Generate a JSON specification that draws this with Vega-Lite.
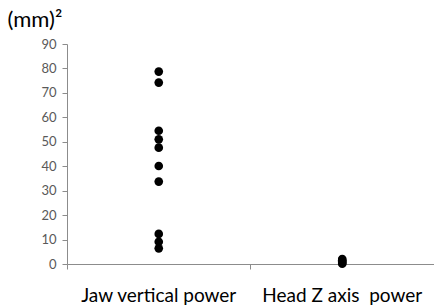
{
  "$schema": "https://vega.github.io/schema/vega-lite/v6.json",
  "autosize": "none",
  "width": 367,
  "height": 220,
  "padding": {"left": 67, "top": 44, "right": 0, "bottom": 44},
  "background": "white",
  "config": {"view": {"stroke": null}, "font": "Lato"},
  "data": {
    "values": [
      {"measure": "Jaw vertical power", "value": 78.7},
      {"measure": "Jaw vertical power", "value": 74.2},
      {"measure": "Jaw vertical power", "value": 54.5},
      {"measure": "Jaw vertical power", "value": 51.0},
      {"measure": "Jaw vertical power", "value": 47.6},
      {"measure": "Jaw vertical power", "value": 40.1},
      {"measure": "Jaw vertical power", "value": 33.7},
      {"measure": "Jaw vertical power", "value": 12.3},
      {"measure": "Jaw vertical power", "value": 9.1},
      {"measure": "Jaw vertical power", "value": 6.4},
      {"measure": "Head Z axis  power", "value": 2.0},
      {"measure": "Head Z axis  power", "value": 1.5},
      {"measure": "Head Z axis  power", "value": 1.0},
      {"measure": "Head Z axis  power", "value": 0.5},
      {"measure": "Head Z axis  power", "value": 0.1}
    ]
  },
  "mark": {"type": "point", "filled": true, "color": "black", "opacity": 1, "size": 75},
  "encoding": {
    "x": {
      "field": "measure",
      "type": "nominal",
      "sort": ["Jaw vertical power", "Head Z axis  power"],
      "scale": {"type": "band", "paddingInner": 0, "paddingOuter": 0},
      "axis": {
        "title": null,
        "labelAngle": 0,
        "bandPosition": 0,
        "labelExpr": "replace(datum.label, '  ', '\u00a0 ')",
        "labelFontSize": 19,
        "labelColor": "black",
        "labelPadding": 17,
        "tickSize": 5,
        "tickColor": "#8c8c8c",
        "domainColor": "#8c8c8c",
        "grid": false
      }
    },
    "y": {
      "field": "value",
      "type": "quantitative",
      "scale": {"domain": [0, 90], "nice": false},
      "axis": {
        "values": [0, 10, 20, 30, 40, 50, 60, 70, 80, 90],
        "grid": false,
        "title": "(mm)²",
        "titleAngle": 0,
        "titleAlign": "left",
        "titleBaseline": "alphabetic",
        "titleX": -60,
        "titleY": -18,
        "titleFont": "Lato",
        "titleFontSize": 22,
        "titleFontWeight": "normal",
        "titleColor": "black",
        "labelFontSize": 13,
        "labelColor": "#595959",
        "labelPadding": 6,
        "tickSize": 5,
        "tickColor": "#8c8c8c",
        "domainColor": "#8c8c8c"
      }
    }
  }
}
